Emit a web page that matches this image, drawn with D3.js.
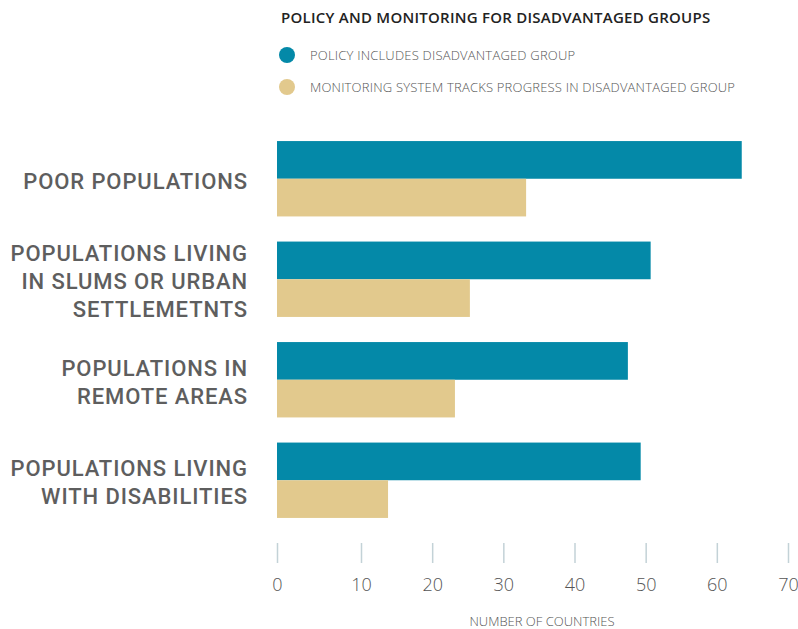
<!DOCTYPE html>
<meta charset="utf-8">
<script src="https://d3js.org/d3.v7.min.js"></script>
<style>
  body { margin: 0; background: #fff; }
  .tick line { stroke: #c3d2d7; stroke-width: 1.5; }
  .tick text { font-family: "Open Sans", sans-serif; font-weight: 300; font-size: 18px; fill: #555; }
</style>
<div id="chart"></div>
<script>
// data
var categories = [
  ["POOR POPULATIONS"],
  ["POPULATIONS LIVING", "IN SLUMS OR URBAN", "SETTLEMETNTS"],
  ["POPULATIONS IN", "REMOTE AREAS"],
  ["POPULATIONS LIVING", "WITH DISABILITIES"]
];
var seriesNames = ["POLICY INCLUDES DISADVANTAGED GROUP", "MONITORING SYSTEM TRACKS PROGRESS IN DISADVANTAGED GROUP"];
var policyValues = [63.5, 50.7, 47.5, 49.3];
var monitoringValues = [33.2, 25.3, 23.2, 13.8];
var tickValues = [0, 10, 20, 30, 40, 50, 60, 70];
var colors = ["#0489a8", "#e2c98d"];

var width = 798, height = 629;

var svg = d3.select("#chart").append("svg")
  .attr("width", width)
  .attr("height", height);

// x scale (the original axis has a wider first interval)
var x = d3.scaleLinear()
  .domain([0, 10, 70])
  .range([277, 361, 788]);

var catIds = d3.range(categories.length);
var y = d3.scaleBand()
  .domain(catIds)
  .range([128.5, 530.5])
  .paddingInner(0.25)
  .paddingOuter(0.125);

var ySub = d3.scaleBand()
  .domain([0, 1])
  .range([0, y.bandwidth()]);

// title
svg.append("text")
  .attr("x", 281)
  .attr("y", 23)
  .style("font-family", "Open Sans, sans-serif")
  .style("font-weight", 600)
  .style("font-size", "15px")
  .style("letter-spacing", "0.25px")
  .style("fill", "#222")
  .text("POLICY AND MONITORING FOR DISADVANTAGED GROUPS");

// legend
var legend = svg.selectAll(".legend")
  .data(seriesNames)
  .enter().append("g")
  .attr("class", "legend")
  .attr("transform", function(d, i) { return "translate(287," + (55 + i * 32) + ")"; });

legend.append("circle")
  .attr("r", 8)
  .attr("fill", function(d, i) { return colors[i]; });

legend.append("text")
  .attr("x", 23)
  .attr("y", 5)
  .style("font-family", "Open Sans, sans-serif")
  .style("font-weight", 300)
  .style("font-size", "13px")
  .style("letter-spacing", "0.2px")
  .style("fill", "#555")
  .text(function(d) { return d; });

// bars
var groups = svg.selectAll(".grp")
  .data(catIds)
  .enter().append("g")
  .attr("class", "grp")
  .attr("transform", function(d) { return "translate(0," + y(d) + ")"; });

groups.selectAll("rect")
  .data(function(d) { return [policyValues[d], monitoringValues[d]]; })
  .enter().append("rect")
  .attr("x", x(0))
  .attr("y", function(d, i) { return ySub(i); })
  .attr("width", function(d) { return x(d) - x(0); })
  .attr("height", ySub.bandwidth())
  .attr("fill", function(d, i) { return colors[i]; });

// category labels
var lineH = 28;
groups.append("text")
  .attr("text-anchor", "end")
  .style("font-family", "Roboto, sans-serif")
  .style("font-weight", 500)
  .style("font-size", "22px")
  .style("letter-spacing", "0.9px")
  .style("fill", "#5e5e5e")
  .each(function(d) {
    var lines = categories[d];
    var cy = y.bandwidth() / 2;
    var start = cy - (lines.length - 1) * lineH / 2 + 10;
    d3.select(this).selectAll("tspan")
      .data(lines)
      .enter().append("tspan")
      .attr("x", 248)
      .attr("y", function(l, i) { return start + i * lineH; })
      .text(function(l) { return l; });
  });

// axis
var axis = svg.append("g")
  .attr("transform", "translate(0,563)")
  .call(d3.axisBottom(x).tickValues(tickValues).tickSize(-20).tickPadding(15));
axis.select(".domain").remove();

svg.append("text")
  .attr("x", 542)
  .attr("y", 626)
  .attr("text-anchor", "middle")
  .style("font-family", "Open Sans, sans-serif")
  .style("font-weight", 300)
  .style("font-size", "13px")
  .style("fill", "#555")
  .text("NUMBER OF COUNTRIES");
</script>
